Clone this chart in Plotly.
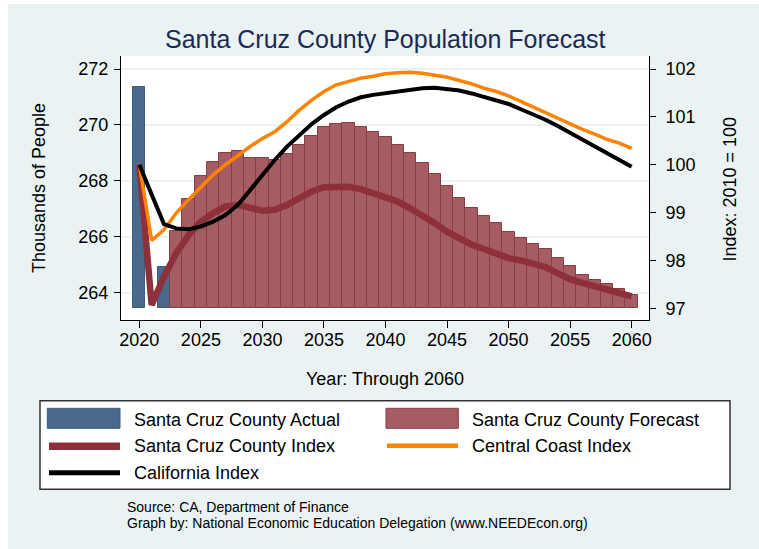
import plotly.graph_objects as go

# ---------------- data ----------------
actual_years = [2020, 2022]
actual_pop = [271.35, 264.93]

forecast_years = list(range(2023, 2061))
forecast_pop = [266.21, 267.35, 268.19, 268.69, 269.01, 269.06, 268.83, 268.81, 268.75, 268.96,
                269.28, 269.61, 269.94, 270.04, 270.07, 269.94, 269.76, 269.56, 269.28, 269.01,
                268.63, 268.24, 267.82, 267.40, 267.02, 266.76, 266.48, 266.16, 265.97, 265.74,
                265.55, 265.23, 264.96, 264.63, 264.45, 264.31, 264.13, 263.92]

index_years = list(range(2020, 2061))
sc_index = [100.00, 97.07, 97.66, 98.15, 98.53, 98.81, 98.99, 99.13, 99.16, 99.09,
            99.04, 99.06, 99.16, 99.30, 99.44, 99.53, 99.54, 99.54, 99.49, 99.41,
            99.33, 99.23, 99.09, 98.95, 98.78, 98.60, 98.45, 98.33, 98.24, 98.14,
            98.05, 98.00, 97.94, 97.86, 97.73, 97.61, 97.53, 97.46, 97.40, 97.33, 97.25]
cc_index = [100.00, 98.42, 98.64, 98.99, 99.27, 99.54, 99.79, 100.00, 100.20, 100.38,
            100.55, 100.69, 100.90, 101.14, 101.35, 101.53, 101.67, 101.74, 101.81, 101.85,
            101.90, 101.92, 101.93, 101.91, 101.87, 101.83, 101.76, 101.69, 101.60, 101.53,
            101.44, 101.32, 101.20, 101.08, 100.96, 100.85, 100.74, 100.64, 100.53, 100.45, 100.34]
ca_index = [100.00, 99.40, 98.76, 98.67, 98.65, 98.71, 98.81, 98.95, 99.16, 99.47,
            99.79, 100.10, 100.38, 100.62, 100.85, 101.04, 101.20, 101.32, 101.41, 101.46,
            101.50, 101.54, 101.58, 101.60, 101.61, 101.59, 101.55, 101.49, 101.42, 101.35,
            101.27, 101.16, 101.06, 100.94, 100.81, 100.67, 100.53, 100.38, 100.24, 100.10, 99.96]

x_ticks = [2020, 2025, 2030, 2035, 2040, 2045, 2050, 2055, 2060]
left_ticks = [264, 266, 268, 270, 272]
right_ticks = [97, 98, 99, 100, 101, 102]

labels = ["Santa Cruz County Actual", "Santa Cruz County Forecast", "Santa Cruz County Index",
          "Central Coast Index", "California Index"]

BAR_BASE = 263.442

# ---------------- style ----------------
FONT = "Liberation Sans, Arial, Helvetica, sans-serif"
BG = "#EAF2F3"
BLUE = "#4A6A8C"
BLUE_LINE = "#3A5C7E"
MAROON = "#A55C62"
MAROON_LINE = "#8E3A43"
RED = "#8E3039"
ORANGE = "#FF8200"
BLACK = "#000000"
TITLE_C = "#1B2A55"

W, H = 759, 549
L, R, T, B = 121, 110, 56, 229
PW, PH = W - L - R, H - T - B


def px(X):
    return (X - L) / PW


def py(Y):
    return (H - B - Y) / PH


fig = go.Figure()

fig.add_trace(go.Bar(
    x=actual_years, y=[v - BAR_BASE for v in actual_pop], base=BAR_BASE, width=1,
    marker=dict(color=BLUE, line=dict(color=BLUE_LINE, width=1)),
    name=labels[0], showlegend=False, yaxis="y"))
fig.add_trace(go.Bar(
    x=forecast_years, y=[v - BAR_BASE for v in forecast_pop], base=BAR_BASE, width=1,
    marker=dict(color=MAROON, line=dict(color=MAROON_LINE, width=1)),
    name=labels[1], showlegend=False, yaxis="y"))

fig.add_trace(go.Scatter(x=index_years, y=sc_index, mode="lines", yaxis="y2",
                         line=dict(color=RED, width=6.5), name=labels[2], showlegend=False))
fig.add_trace(go.Scatter(x=index_years, y=cc_index, mode="lines", yaxis="y2",
                         line=dict(color=ORANGE, width=3.5), name=labels[3], showlegend=False))
fig.add_trace(go.Scatter(x=index_years, y=ca_index, mode="lines", yaxis="y2",
                         line=dict(color=BLACK, width=4), name=labels[4], showlegend=False))

axis_common = dict(ticks="outside", tickcolor="black", tickwidth=1, showline=True,
                   linecolor="black", linewidth=1, zeroline=False,
                   tickfont=dict(family=FONT, size=18, color="black"))

shapes = []
# white strips at the left and top edge
shapes.append(dict(type="rect", xref="paper", yref="paper", x0=px(0), x1=px(8), y0=py(H), y1=py(0),
                   fillcolor="white", line=dict(width=0), layer="below"))
shapes.append(dict(type="rect", xref="paper", yref="paper", x0=px(0), x1=px(W), y0=py(4), y1=py(0),
                   fillcolor="white", line=dict(width=0), layer="below"))
# legend box
shapes.append(dict(type="rect", xref="paper", yref="paper", x0=px(40), x1=px(730), y0=py(489.3), y1=py(400.7),
                   fillcolor="white", line=dict(color="#333333", width=1.5)))
# legend keys
shapes.append(dict(type="rect", xref="paper", yref="paper", x0=px(47.3), x1=px(120), y0=py(428.3), y1=py(408.3),
                   fillcolor=BLUE, line=dict(color=BLUE_LINE, width=1)))
shapes.append(dict(type="rect", xref="paper", yref="paper", x0=px(386), x1=px(458.3), y0=py(428.3), y1=py(408.3),
                   fillcolor=MAROON, line=dict(color=MAROON_LINE, width=1)))
shapes.append(dict(type="line", xref="paper", yref="paper", x0=px(49), x1=px(120), y0=py(446.2), y1=py(446.2),
                   line=dict(color=RED, width=7.5)))
shapes.append(dict(type="line", xref="paper", yref="paper", x0=px(387), x1=px(458), y0=py(445.8), y1=py(445.8),
                   line=dict(color=ORANGE, width=4.5)))
shapes.append(dict(type="line", xref="paper", yref="paper", x0=px(49), x1=px(120), y0=py(472.8), y1=py(472.8),
                   line=dict(color=BLACK, width=5)))

ann = []


def text(x, y, s, size, color="black", xanchor="left", angle=0):
    ann.append(dict(x=px(x), y=py(y), xref="paper", yref="paper", text=s, showarrow=False,
                    xanchor=xanchor, yanchor="middle", textangle=angle,
                    font=dict(family=FONT, size=size, color=color)))


text(385.4, 39, "Santa Cruz County Population Forecast", 25, TITLE_C, "center")
text(385, 379, "Year: Through 2060", 18, "black", "center")
text(39, 188, "Thousands of People", 18, "black", "center", -90)
text(729.5, 189, "Index: 2010 = 100", 18, "black", "center", -90)
text(131.7, 419.7, labels[0], 18)
text(470, 419.7, labels[1], 18)
text(131.7, 446.3, labels[2], 18)
text(470, 446.3, labels[3], 18)
text(131.7, 472.8, labels[4], 18)
text(125, 507, "Source: CA, Department of Finance", 14)
text(125, 522.7, "Graph by: National Economic Education Delegation (www.NEEDEcon.org)", 14)

fig.update_layout(
    width=W, height=H, autosize=False,
    margin=dict(l=L, r=R, t=T, b=B, pad=0),
    paper_bgcolor=BG, plot_bgcolor="white",
    barmode="overlay", bargap=0,
    showlegend=False,
    font=dict(family=FONT, color="black"),
    xaxis=dict(range=[2018.51, 2061.41], tickvals=x_ticks, ticklen=7, showgrid=False,
               ticklabelstandoff=-4, **axis_common),
    yaxis=dict(range=[263.024, 272.465], tickvals=left_ticks, ticklen=6, showgrid=True,
               gridcolor=BG, gridwidth=1.5, ticklabelstandoff=2, **axis_common),
    yaxis2=dict(range=[96.756, 102.272], tickvals=right_ticks, ticklen=6, overlaying="y", side="right",
                showgrid=False, ticklabelstandoff=6, **axis_common),
    shapes=shapes, annotations=ann,
)

fig.write_html("out.html", config={"displayModeBar": False},
               post_script="document.body.style.margin='0px';document.body.style.overflow='hidden';")
